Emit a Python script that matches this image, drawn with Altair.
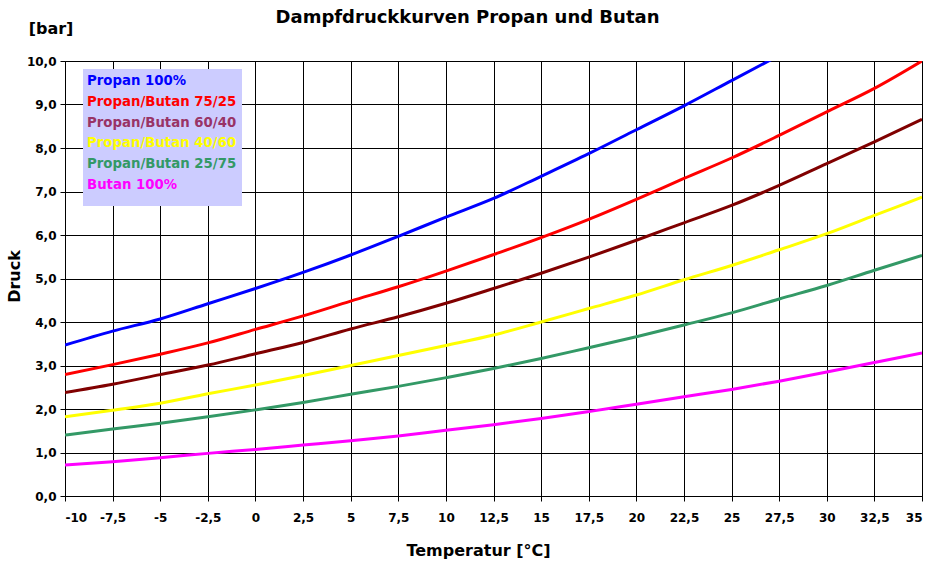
import altair as alt
import pandas as pd

temps = [-10, -7.5, -5, -2.5, 0, 2.5, 5, 7.5, 10, 12.5, 15, 17.5, 20, 22.5, 25, 27.5, 30, 32.5, 35]

series_names = ["Propan 100%", "Propan/Butan 75/25", "Propan/Butan 60/40",
                "Propan/Butan 40/60", "Propan/Butan 25/75", "Butan 100%"]

propan_100 = [3.47, 3.79, 4.07, 4.42, 4.77, 5.14, 5.54, 5.97, 6.41, 6.84, 7.35, 7.87, 8.42, 8.97, 9.55, 10.13, None, None, None]
pb_75_25 = [2.79, 3.02, 3.26, 3.52, 3.83, 4.14, 4.48, 4.81, 5.17, 5.55, 5.94, 6.36, 6.82, 7.30, 7.77, 8.29, 8.83, 9.37, 10.0]
pb_60_40 = [2.38, 2.57, 2.79, 3.01, 3.27, 3.53, 3.84, 4.12, 4.43, 4.77, 5.12, 5.49, 5.88, 6.28, 6.68, 7.14, 7.64, 8.14, 8.66]
pb_40_60 = [1.82, 1.97, 2.13, 2.35, 2.55, 2.77, 3.00, 3.23, 3.46, 3.70, 4.00, 4.31, 4.62, 4.97, 5.30, 5.66, 6.03, 6.45, 6.87]
pb_25_75 = [1.40, 1.54, 1.67, 1.82, 1.98, 2.15, 2.34, 2.52, 2.72, 2.93, 3.16, 3.41, 3.66, 3.93, 4.21, 4.53, 4.84, 5.19, 5.53]
butan_100 = [0.71, 0.79, 0.88, 0.98, 1.07, 1.17, 1.27, 1.38, 1.51, 1.64, 1.78, 1.94, 2.11, 2.28, 2.45, 2.64, 2.85, 3.07, 3.29]

line_colors = ["#0000FF", "#FF0000", "#800000", "#FFFF00", "#339966", "#FF00FF"]
label_colors = ["#0000FF", "#FF0000", "#993366", "#FFFF00", "#339966", "#FF00FF"]
line_widths = [3, 3, 3, 2.2, 3, 3]

x_ticks = temps
y_ticks = [0, 1, 2, 3, 4, 5, 6, 7, 8, 9, 10]

all_values = [propan_100, pb_75_25, pb_60_40, pb_40_60, pb_25_75, butan_100]
rows = []
for name, vals in zip(series_names, all_values):
    for t, v in zip(temps, vals):
        if v is not None:
            rows.append({"Temperatur": t, "Druck": v, "Serie": name})
df = pd.DataFrame(rows)

FONT = "DejaVu Sans"

x_enc = alt.X("Temperatur:Q",
              scale=alt.Scale(domain=[-10, 35], nice=False, zero=False),
              axis=alt.Axis(values=x_ticks, title="Temperatur [°C]",
                            labelExpr="replace(toString(datum.value), '.', ',')",
                            labelPadding=11, labelBaseline="top",
                            titleX=413, titleY=54, titleAlign="center",
                            titleBaseline="middle", titleFontSize=16))
y_enc = alt.Y("Druck:Q",
              scale=alt.Scale(domain=[0, 10], nice=False),
              axis=alt.Axis(values=y_ticks, title="Druck",
                            labelExpr="replace(format(datum.value, '.1f'), '.', ',')",
                            labelPadding=4,
                            titleAngle=270, titleX=-51, titleY=215,
                            titleAlign="center", titleBaseline="middle",
                            titleFontSize=16))

lines = alt.Chart(df).mark_line(interpolate="monotone", clip=True).encode(
    x=x_enc,
    y=y_enc,
    color=alt.Color("Serie:N", scale=alt.Scale(domain=series_names, range=line_colors), legend=None),
    strokeWidth=alt.StrokeWidth("Serie:N", scale=alt.Scale(domain=series_names, range=line_widths), legend=None),
    order=alt.Order("Temperatur:Q"),
)

one = pd.DataFrame({"k": [0]})

legend_box = alt.Chart(one).mark_rect(color="#CCCCFF").encode(
    x=alt.value(18), x2=alt.value(177), y=alt.value(8), y2=alt.value(145)
)

legend_texts = []
row_y = [19.7, 40.6, 61.5, 82.4, 103.3, 124.2]
for name, col, yy in zip(series_names, label_colors, row_y):
    legend_texts.append(
        alt.Chart(pd.DataFrame({"t": [name]})).mark_text(
            align="left", baseline="middle", font=FONT, fontWeight="bold", fontSize=13.3
        ).encode(text="t:N", x=alt.value(22), y=alt.value(yy), color=alt.value(col))
    )

title_text = alt.Chart(pd.DataFrame({"t": ["Dampfdruckkurven Propan und Butan"]})).mark_text(
    align="center", baseline="middle", font=FONT, fontWeight="bold", fontSize=18, color="black"
).encode(text="t:N", x=alt.value(402.5), y=alt.value(-43))

unit_text = alt.Chart(pd.DataFrame({"t": ["[bar]"]})).mark_text(
    align="center", baseline="middle", font=FONT, fontWeight="bold", fontSize=16, color="black"
).encode(text="t:N", x=alt.value(-14), y=alt.value(-32))

chart = alt.layer(lines, legend_box, *legend_texts, title_text, unit_text).properties(
    width=857, height=435,
    autosize=alt.AutoSizeParams(type="none"),
    padding={"left": 65, "top": 61, "right": 12, "bottom": 67},
    background="white",
).configure_view(
    stroke="#909090", strokeWidth=1
).configure_axis(
    domainColor="black", domainWidth=1,
    tickColor="black", tickSize=5, tickWidth=1,
    gridColor="black", gridWidth=1, grid=True,
    labelFont=FONT, labelFontWeight="bold", labelFontSize=12, labelColor="black",
    titleFont=FONT, titleFontWeight="bold", titleColor="black",
)

chart.save("out.html", embed_options={"renderer": "svg", "actions": False})
